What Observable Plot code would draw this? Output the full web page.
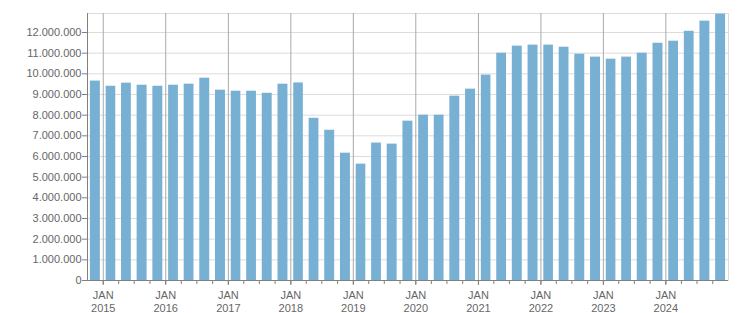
<!DOCTYPE html>
<html><head><meta charset="utf-8">
<script src="https://cdn.jsdelivr.net/npm/d3@7"></script>
<script src="https://cdn.jsdelivr.net/npm/@observablehq/plot@0.6"></script>
<style>body{margin:0;background:#fff}</style>
</head><body><div id="chart"></div>
<script>
// Quarter start dates (quarterly bars, 2014 Q4 – 2024 Q4)
const quarters = [
  "2014-10-01",
  "2015-01-01","2015-04-01","2015-07-01","2015-10-01",
  "2016-01-01","2016-04-01","2016-07-01","2016-10-01",
  "2017-01-01","2017-04-01","2017-07-01","2017-10-01",
  "2018-01-01","2018-04-01","2018-07-01","2018-10-01",
  "2019-01-01","2019-04-01","2019-07-01","2019-10-01",
  "2020-01-01","2020-04-01","2020-07-01","2020-10-01",
  "2021-01-01","2021-04-01","2021-07-01","2021-10-01",
  "2022-01-01","2022-04-01","2022-07-01","2022-10-01",
  "2023-01-01","2023-04-01","2023-07-01","2023-10-01",
  "2024-01-01","2024-04-01","2024-07-01","2024-10-01"
];
const values = [
  9650000,
  9400000, 9550000, 9450000, 9400000,
  9450000, 9500000, 9790000, 9210000,
  9160000, 9160000, 9060000, 9500000,
  9560000, 7850000, 7270000, 6160000,
  5630000, 6650000, 6600000, 7710000,
  8000000, 8000000, 8920000, 9260000,
  9940000, 11000000, 11340000, 11390000,
  11390000, 11290000, 10950000, 10810000,
  10710000, 10810000, 11000000, 11480000,
  11580000, 12060000, 12550000, 12890000
];
const yTicks = [0,1000000,2000000,3000000,4000000,5000000,6000000,7000000,8000000,9000000,10000000,11000000,12000000];
const yearTicks = ["2015","2016","2017","2018","2019","2020","2021","2022","2023","2024"];
const monthLabel = "JAN";

const parse = d3.utcParse("%Y-%m-%d");
const data = quarters.map((q, i) => {
  const start = parse(q);
  return {start, end: d3.utcMonth.offset(start, 3), value: values[i]};
});
const domainStart = data[0].start;
const domainEnd = data[data.length - 1].end;
const janDates = yearTicks.map(y => parse(y + "-01-01"));
const quarterTicks = data.slice(1).map(d => d.start);

const loc = d3.formatLocale({decimal: ",", thousands: ".", grouping: [3], currency: ["", ""]});
const fmt = loc.format(",d");

const chart = Plot.plot({
  width: 751,
  height: 313,
  marginLeft: 87,
  marginRight: 23,
  marginTop: 13,
  marginBottom: 33,
  style: {fontFamily: "'Liberation Sans', Arial, sans-serif", fontSize: "11px", color: "#666", background: "#fff"},
  x: {type: "utc", domain: [domainStart, domainEnd], axis: null},
  y: {domain: [0, 12920000], axis: null},
  marks: [
    Plot.gridY(yTicks.slice(1), {stroke: "#dcdcdc", strokeOpacity: 1}),
    Plot.frame({stroke: "#dcdcdc"}),
    Plot.gridX(janDates, {stroke: "#aaaaaa", strokeOpacity: 1}),
    Plot.rectY(data, {x1: "start", x2: "end", y: "value", fill: "#78b0d3", insetLeft: 2.9, insetRight: 2.9}),
    Plot.ruleX([domainStart], {stroke: "#808080"}),
    Plot.ruleY([0], {stroke: "#808080"}),
    Plot.axisY(yTicks, {tickSize: 5, tickPadding: 1, tickFormat: fmt, stroke: "#808080", fill: "#666", label: null}),
    Plot.axisX(quarterTicks, {tickSize: 4, tickFormat: () => "", stroke: "#808080", label: null}),
    Plot.axisX(janDates, {tickSize: 5, tickPadding: 5, lineHeight: 1.15, tickFormat: d => monthLabel + "\n" + d3.utcFormat("%Y")(d), stroke: "#808080", fill: "#666", label: null})
  ]
});
document.getElementById("chart").appendChild(chart);
</script>
</body></html>
